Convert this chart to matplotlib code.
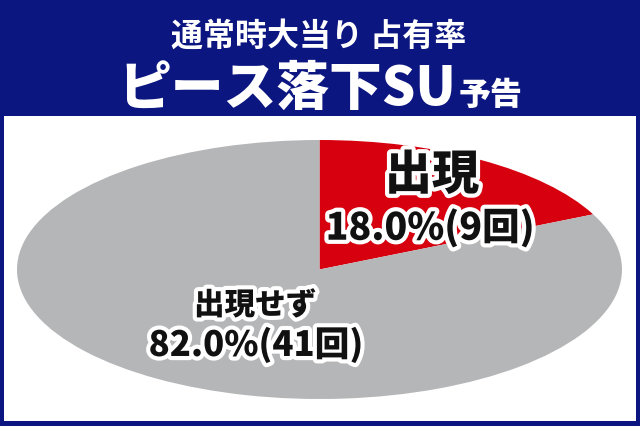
import matplotlib
matplotlib.use("Agg")
import matplotlib.pyplot as plt
import matplotlib.patheffects as pe
from matplotlib.patches import Rectangle

plt.rcParams['font.family'] = ['Noto Sans CJK JP', 'DejaVu Sans']

# data
labels = ["出現", "出現せず"]
shares = [18.0, 82.0]
counts = [9, 41]
colors = ["#d7000f", "#b5b6b8"]
title_top = "通常時大当り 占有率"
title_main = "ピース落下SU"
title_tail = "予告"

W, H = 640, 427
navy = "#0c1680"

fig = plt.figure(figsize=(W / 100, H / 100), dpi=100)
fig.patch.set_facecolor(navy)

# white panel below the header
fig.patches.append(Rectangle((4 / W, 5 / H), 632 / W, (H - 117 - 5) / H,
                             transform=fig.transFigure, facecolor="white",
                             edgecolor="none", zorder=-10))

# pie, stretched into an ellipse
ax = fig.add_axes([17 / W, (H - 400) / H, 605 / W, 259 / H])
ax.pie(shares, colors=colors, startangle=90, counterclock=False,
       radius=1, wedgeprops=dict(linewidth=0))
ax.set_aspect("auto")
ax.set_xlim(-1, 1)
ax.set_ylim(-1, 1)
ax.axis("off")

# header text
fig.text(319 / W, 1 - 37 / H, title_top, color="white", fontsize=23,
         fontweight="bold", ha="center", va="center")
fig.text(456 / W, 1 - 105 / H, title_main, color="white", fontsize=38,
         fontweight="heavy", ha="right", va="baseline")
fig.text(459 / W, 1 - 105 / H, title_tail, color="white", fontsize=23,
         fontweight="heavy", ha="left", va="baseline")

outline = [pe.withStroke(linewidth=6, foreground="white")]

# slice labels
fig.text(432 / W, 1 - 176 / H, labels[0], fontsize=34, fontweight="heavy",
         color="#111111", ha="center", va="center", path_effects=outline)
fig.text(430 / W, 1 - 229 / H, f"{shares[0]:.1f}%({counts[0]}回)",
         fontsize=27, fontweight="heavy", color="#111111",
         ha="center", va="center", path_effects=outline)
fig.text(255 / W, 1 - 306 / H, labels[1], fontsize=22, fontweight="heavy",
         color="#111111", ha="center", va="center", path_effects=outline)
fig.text(256 / W, 1 - 346 / H, f"{shares[1]:.1f}%({counts[1]}回)",
         fontsize=25, fontweight="heavy", color="#111111",
         ha="center", va="center", path_effects=outline)

fig.savefig("out.png", dpi=100, facecolor=fig.get_facecolor())
